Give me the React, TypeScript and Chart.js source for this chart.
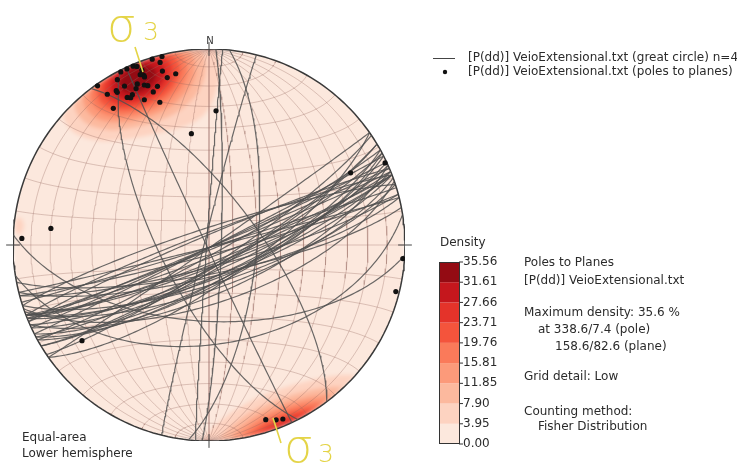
import React, { useEffect, useRef } from "react";
import { Chart, registerables } from "chart.js";

Chart.register(...registerables);

// Planes read from VeioExtensional.txt, [P(dd)] format: dip direction / dip (degrees)
const dipDirections = [
  166, 163, 155, 153, 157, 165, 165, 169, 166, 159,
  162, 160, 156, 161, 145, 146, 149, 151, 153, 155,
  145, 151, 152, 158, 156, 159, 158, 159, 152, 149,
  159, 158,
  342, 339, 337,
  183, 171, 243, 245, 96, 92, 274, 284, 53,
];
const dips = [
  89, 89, 89, 89, 89, 86, 81, 78, 77, 82,
  74, 72, 70, 66, 89, 82, 81, 75, 75, 77,
  74, 86, 81, 77, 79, 76, 88, 85, 74, 80,
  81, 83,
  83, 85, 86,
  58, 48, 70, 89, 70, 85, 89, 88, 70,
];

// Contour levels (%) and their fill colours
const densityTicks = [0, 3.95, 7.9, 11.85, 15.81, 19.76, 23.71, 27.66, 31.61, 35.56];
const densityTickLabels = ["0.00", "3.95", "7.90", "11.85", "15.81", "19.76", "23.71", "27.66", "31.61", "35.56"];
const densityColors = [
  "#fce8dd", "#fdd3c1", "#fcb99e", "#fc9a7a", "#fa7a5a",
  "#f4543c", "#e4332a", "#c5171d", "#940b13",
];
const fisherKappa = 28;
const gridStepDeg = 10;

const legendLabels = [
  `[P(dd)] VeioExtensional.txt (great circle) n=${dipDirections.length}`,
  "[P(dd)] VeioExtensional.txt (poles to planes)",
];
const infoTitle = ["Poles to Planes", "[P(dd)] VeioExtensional.txt"];
const infoMax = ["Maximum density: 35.6 %", "at 338.6/7.4 (pole)", "158.6/82.6 (plane)"];
const infoGrid = "Grid detail: Low";
const infoMethod = ["Counting method:", "Fisher Distribution"];
const netLabels = ["Equal-area", "Lower hemisphere"];

const rad = (d: number) => (d * Math.PI) / 180;

// Lambert equal-area, lower hemisphere; vectors are (east, north, down)
function project(e: number, n: number, d: number) {
  if (d < 0) { e = -e; n = -n; d = -d; }
  const k = 1 / Math.sqrt(1 + d);
  return { x: e * k, y: n * k };
}

function poleVector(dd: number, dip: number): [number, number, number] {
  const tr = rad(dd + 180);
  const pl = rad(90 - dip);
  return [Math.cos(pl) * Math.sin(tr), Math.cos(pl) * Math.cos(tr), Math.sin(pl)];
}

function greatCircle(dd: number, dip: number) {
  const s = rad(dd - 90), a = rad(dd), b = rad(dip);
  const pts: { x: number; y: number }[] = [];
  for (let t = 0; t <= 180; t += 1.5) {
    const c = Math.cos(rad(t)), sn = Math.sin(rad(t));
    const e = c * Math.sin(s) + sn * Math.cos(b) * Math.sin(a);
    const n = c * Math.cos(s) + sn * Math.cos(b) * Math.cos(a);
    const d = Math.max(0, sn * Math.sin(b));
    pts.push(project(e, n, d));
  }
  return pts;
}

// Small circle about the N-S axis, at angle alpha from north
function smallCircleNS(alpha: number) {
  const pts: { x: number; y: number }[] = [];
  const a = rad(alpha);
  for (let p = 0; p <= 180; p += 2) {
    const ph = rad(p);
    pts.push(project(Math.sin(a) * Math.cos(ph), Math.cos(a), Math.sin(a) * Math.sin(ph)));
  }
  return pts;
}

function primitive() {
  const pts: { x: number; y: number }[] = [];
  for (let a = 0; a <= 360; a += 1.5) pts.push({ x: Math.cos(rad(a)), y: Math.sin(rad(a)) });
  return pts;
}

function hexRgb(h: string) {
  const v = parseInt(h.slice(1), 16);
  return [(v >> 16) & 255, (v >> 8) & 255, v & 255];
}

const gridLines: { x: number; y: number }[][] = [];
for (let dip = gridStepDeg; dip <= 90; dip += gridStepDeg) gridLines.push(greatCircle(90, dip));
for (let dip = gridStepDeg; dip < 90; dip += gridStepDeg) gridLines.push(greatCircle(270, dip));
for (let a = gridStepDeg; a < 180; a += gridStepDeg) gridLines.push(smallCircleNS(a));

const poles = dipDirections.map((dd, i) => {
  const v = poleVector(dd, dips[i]);
  return project(v[0], v[1], v[2]);
});

const densityPlugin = {
  id: "fisherDensity",
  beforeDatasetsDraw(chart: any) {
    const { ctx, chartArea, scales } = chart;
    const sx = scales.x, sy = scales.y;
    const left = Math.floor(chartArea.left), top = Math.floor(chartArea.top);
    const w = Math.ceil(chartArea.right) - left, h = Math.ceil(chartArea.bottom) - top;
    const vecs = dipDirections.map((dd, i) => poleVector(dd, dips[i]));
    const raw = new Float32Array(w * h);
    let maxRaw = 0;
    for (let j = 0; j < h; j++) {
      const vy = sy.getValueForPixel(top + j + 0.5);
      for (let i = 0; i < w; i++) {
        const vx = sx.getValueForPixel(left + i + 0.5);
        const r2 = vx * vx + vy * vy;
        if (r2 > 1) continue;
        const s = Math.sqrt(2 - r2);
        const e = vx * s, n = vy * s, d = 1 - r2;
        let sum = 0;
        for (const p of vecs) {
          const c = Math.abs(e * p[0] + n * p[1] + d * p[2]);
          sum += Math.exp(fisherKappa * (c - 1));
        }
        raw[j * w + i] = sum;
        if (sum > maxRaw) maxRaw = sum;
      }
    }
    const top_ = densityTicks[densityTicks.length - 1];
    const rgb = densityColors.map(hexRgb);
    const off = document.createElement("canvas");
    off.width = w; off.height = h;
    const octx = off.getContext("2d")!;
    const img = octx.createImageData(w, h);
    for (let k = 0; k < w * h; k++) {
      const val = maxRaw > 0 ? (raw[k] / maxRaw) * top_ : 0;
      let lvl = 0;
      for (let q = 1; q < densityColors.length; q++) if (val >= densityTicks[q]) lvl = q;
      const c = rgb[lvl];
      img.data[k * 4] = c[0]; img.data[k * 4 + 1] = c[1]; img.data[k * 4 + 2] = c[2]; img.data[k * 4 + 3] = 255;
    }
    octx.putImageData(img, 0, 0);
    const cx = sx.getPixelForValue(0), cy = sy.getPixelForValue(0);
    const R = sx.getPixelForValue(1) - cx;
    ctx.save();
    ctx.beginPath();
    ctx.arc(cx, cy, R, 0, Math.PI * 2);
    ctx.clip();
    ctx.filter = "blur(2px)";
    ctx.drawImage(off, left, top);
    ctx.restore();
  },
};

const decorPlugin = {
  id: "netDecor",
  afterDraw(chart: any) {
    const { ctx, scales } = chart;
    const sx = scales.x, sy = scales.y;
    const px = (v: number) => sx.getPixelForValue(v);
    const py = (v: number) => sy.getPixelForValue(v);
    ctx.save();
    // cardinal ticks
    ctx.strokeStyle = "#444";
    ctx.lineWidth = 1;
    const t = 0.035;
    ctx.beginPath();
    ctx.moveTo(px(0), py(1 + t)); ctx.lineTo(px(0), py(1 - t));
    ctx.moveTo(px(0), py(-1 + t)); ctx.lineTo(px(0), py(-1 - t));
    ctx.moveTo(px(-1 - t), py(0)); ctx.lineTo(px(-1 + t), py(0));
    ctx.moveTo(px(1 - t), py(0)); ctx.lineTo(px(1 + t), py(0));
    ctx.stroke();
    ctx.fillStyle = "#333";
    ctx.font = "10px 'DejaVu Sans'";
    ctx.textAlign = "center";
    ctx.textBaseline = "alphabetic";
    ctx.fillText("N", px(0) + 1, py(1) - 5);

    ctx.textAlign = "left";
    ctx.textBaseline = "middle";
    ctx.font = "12px 'DejaVu Sans'";
    ctx.fillStyle = "#2b2b2b";

    // legend
    ctx.strokeStyle = "#444";
    ctx.beginPath(); ctx.moveTo(433, 58.5); ctx.lineTo(455, 58.5); ctx.stroke();
    ctx.fillStyle = "#111";
    ctx.beginPath(); ctx.arc(445, 72, 2.2, 0, Math.PI * 2); ctx.fill();
    ctx.fillStyle = "#2b2b2b";
    ctx.fillText(legendLabels[0], 468, 58);
    ctx.fillText(legendLabels[1], 468, 72);

    // colour bar
    const barL = 439, barR = 460, barT = 262, barB = 444;
    const yOf = (v: number) => barB - (v / densityTicks[densityTicks.length - 1]) * (barB - barT);
    for (let k = 0; k < densityColors.length; k++) {
      ctx.fillStyle = densityColors[k];
      ctx.fillRect(barL, yOf(densityTicks[k + 1]), barR - barL, yOf(densityTicks[k]) - yOf(densityTicks[k + 1]));
    }
    ctx.strokeStyle = "#333";
    ctx.lineWidth = 1;
    ctx.strokeRect(barL + 0.5, barT + 0.5, barR - barL - 1, barB - barT - 1);
    ctx.fillStyle = "#2b2b2b";
    ctx.fillText("Density", 440, 243);
    densityTicks.forEach((v, k) => {
      const y = yOf(v);
      ctx.beginPath(); ctx.moveTo(barR - 1, y); ctx.lineTo(barR + 3, y); ctx.stroke();
      ctx.fillText(densityTickLabels[k], 463, y);
    });

    // info text
    ctx.fillText(infoTitle[0], 524, 263);
    ctx.fillText(infoTitle[1], 524, 281);
    ctx.fillText(infoMax[0], 524, 313);
    ctx.fillText(infoMax[1], 538, 330);
    ctx.fillText(infoMax[2], 555, 347);
    ctx.fillText(infoGrid, 524, 377);
    ctx.fillText(infoMethod[0], 524, 412);
    ctx.fillText(infoMethod[1], 538, 427);
    ctx.fillText(netLabels[0], 22, 438);
    ctx.fillText(netLabels[1], 22, 454);

    // sigma-3 labels
    const yellow = "#e4d447";
    ctx.strokeStyle = yellow;
    ctx.fillStyle = yellow;
    ctx.lineWidth = 1.6;
    ctx.beginPath();
    ctx.moveTo(135, 47); ctx.lineTo(143, 72);
    ctx.moveTo(273, 418); ctx.lineTo(281, 443);
    ctx.stroke();
    ctx.textBaseline = "alphabetic";
    ctx.font = "200 46px 'DejaVu Sans'";
    ctx.fillText("σ", 107, 41);
    ctx.fillText("σ", 284, 462);
    ctx.font = "200 25px 'DejaVu Sans'";
    ctx.fillText("3", 143, 40);
    ctx.fillText("3", 318, 462);
    ctx.restore();
  },
};

export default function App() {
  const ref = useRef<HTMLCanvasElement>(null);
  useEffect(() => {
    document.body.style.margin = "0";
    const datasets: any[] = [];
    datasets.push({
      label: "poles",
      data: poles,
      pointRadius: 2.6,
      pointBackgroundColor: "#111",
      pointBorderWidth: 0,
      showLine: false,
      order: 0,
    });
    dipDirections.forEach((dd, i) => {
      datasets.push({
        label: `gc${i}`,
        data: greatCircle(dd, dips[i]),
        showLine: true,
        borderColor: "rgba(80,80,80,0.85)",
        borderWidth: 1.2,
        pointRadius: 0,
        order: 1,
      });
    });
    datasets.push({
      label: "primitive",
      data: primitive(),
      showLine: true,
      borderColor: "#3a3a3a",
      borderWidth: 1.5,
      pointRadius: 0,
      order: 2,
    });
    gridLines.forEach((pts, i) => {
      datasets.push({
        label: `grid${i}`,
        data: pts,
        showLine: true,
        borderColor: "rgba(150,105,95,0.42)",
        borderWidth: 0.8,
        pointRadius: 0,
        order: 3,
      });
    });
    const chart = new Chart(ref.current!, {
      type: "scatter",
      data: { datasets },
      options: {
        animation: false,
        responsive: false,
        maintainAspectRatio: false,
        events: [],
        layout: { padding: { left: 13, top: 49, right: 332, bottom: 25 } },
        scales: {
          x: { type: "linear", min: -1, max: 1, display: false },
          y: { type: "linear", min: -1, max: 1, display: false },
        },
        plugins: { legend: { display: false }, tooltip: { enabled: false } },
      },
      plugins: [densityPlugin, decorPlugin],
    } as any);
    return () => chart.destroy();
  }, []);
  return (
    <div style={{ width: 737, height: 466, background: "#fff" }}>
      <canvas ref={ref} width={737} height={466} style={{ display: "block" }} />
    </div>
  );
}
